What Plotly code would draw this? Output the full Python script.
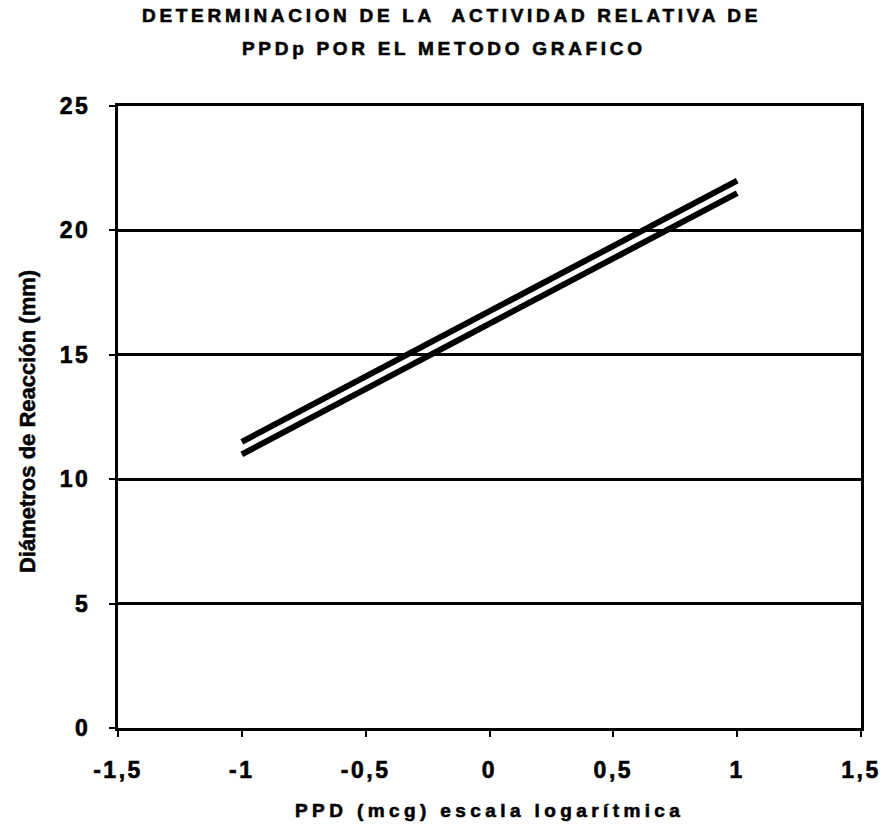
import plotly.graph_objects as go

# log dose (PPD) and reaction diameter (mm) for the two fitted lines
log_dose = [-1, 1]
diam_std = [11.5, 22.0]
diam_test = [11.0, 21.5]

x_ticks = [-1.5, -1, -0.5, 0, 0.5, 1, 1.5]
x_labels = ["-1,5", "-1", "-0,5", "0", "0,5", "1", "1,5"]
y_ticks = [0, 5, 10, 15, 20, 25]
y_labels = ["0", "5", "10", "15", "20", "25"]

title_1 = "DETERMINACION DE LA  ACTIVIDAD RELATIVA DE"
title_2 = "PPDp POR EL METODO GRAFICO"
x_title = "PPD (mcg) escala logarítmica"
y_title = "Diámetros de Reacción (mm)"

FONT = "Liberation Sans"


def spaced(txt, px):
    # heavy, letter-spaced look of the scanned original
    return ("<b><span style='letter-spacing:%.1fpx;stroke:black;stroke-width:0.6px'>%s</span></b>"
            % (px, txt))


fig = go.Figure()
fig.add_trace(go.Scatter(x=log_dose, y=diam_std, mode='lines',
                         line=dict(color='black', width=6), showlegend=False))
fig.add_trace(go.Scatter(x=log_dose, y=diam_test, mode='lines',
                         line=dict(color='black', width=6), showlegend=False))

ann = dict(xref='paper', yref='paper', showarrow=False,
           font=dict(family=FONT, size=19, color='black'))
fig.add_annotation(text=spaced(title_1, 3.7), x=0.4495, y=1.146,
                   xanchor='center', yanchor='middle', **ann)
fig.add_annotation(text=spaced(title_2, 3.7), x=0.439, y=1.093,
                   xanchor='center', yanchor='middle', **ann)
fig.add_annotation(text=spaced(x_title, 4.4), x=0.5, y=-0.132,
                   xanchor='center', yanchor='middle', **ann)
fig.add_annotation(text="<b><span style='stroke:black;stroke-width:0.5px'>%s</span></b>" % y_title,
                   x=-0.121, y=0.492, textangle=-90,
                   xanchor='center', yanchor='middle', xref='paper', yref='paper',
                   showarrow=False, font=dict(family=FONT, size=22, color='black'))

tick_font = dict(family=FONT, size=23, color='black')

fig.update_layout(
    width=885, height=825,
    margin=dict(l=118, r=24, t=106, b=97),
    paper_bgcolor='white', plot_bgcolor='white',
    xaxis=dict(
        range=[-1.5, 1.5], tickvals=x_ticks,
        ticktext=[spaced(t, 2.5) for t in x_labels],
        showgrid=False, zeroline=False, automargin=False,
        showline=True, linecolor='black', linewidth=3, mirror=True,
        ticks='outside', ticklen=6, tickwidth=2, tickcolor='black',
        ticklabelstandoff=13,
        tickfont=tick_font,
    ),
    yaxis=dict(
        range=[0, 25], tickvals=y_ticks,
        ticktext=[spaced(t, 2.5) for t in y_labels],
        showgrid=True, gridcolor='black', gridwidth=2.5, zeroline=False, automargin=False,
        showline=True, linecolor='black', linewidth=3, mirror=True,
        ticks='outside', ticklen=6, tickwidth=2, tickcolor='black',
        ticklabelstandoff=14,
        tickfont=tick_font,
    ),
)

fig.write_html("out.html", config={'displayModeBar': False},
               post_script="document.body.style.margin='0';")
